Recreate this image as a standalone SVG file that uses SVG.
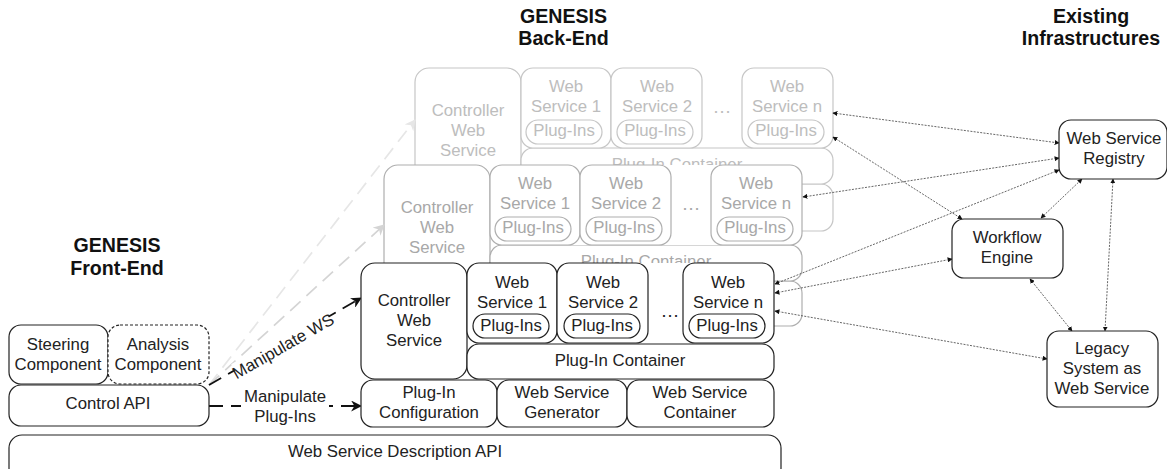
<svg xmlns="http://www.w3.org/2000/svg" width="1167" height="469" viewBox="0 0 1167 469">
<style>
text{font-family:"Liberation Sans",Arial,sans-serif;font-size:16.8px;text-anchor:middle;fill:#222}
.t{font-weight:bold;font-size:19.6px;fill:#111}
.d{font-size:19px}
rect{fill:#fff;stroke:#222;stroke-width:1.2}
.dash{stroke-dasharray:3 2}
.s1 rect{stroke:#c6c6c6}.s1 text{fill:#bdbdbd}
.s2 rect{stroke:#aeaeae}.s2 text{fill:#a8a8a8}
.k{fill:none;stroke:#555;stroke-width:.9;stroke-dasharray:2 1.3;marker-start:url(#a);marker-end:url(#a)}
.m{fill:none;stroke:#111;stroke-width:1.8;stroke-dasharray:14 8;marker-end:url(#b)}
.g1{fill:none;stroke:#e6e6e6;stroke-width:1.7;stroke-dasharray:14 8;marker-end:url(#c)}
.g2{fill:none;stroke:#d4d4d4;stroke-width:1.7;stroke-dasharray:14 8;marker-end:url(#d)}
rect.h{fill:#fff;stroke:none}
</style>
<defs>
<marker id="a" viewBox="0 0 8 8" refX="7" refY="4" markerWidth="5" markerHeight="5" markerUnits="userSpaceOnUse" orient="auto-start-reverse"><path d="M0 0L8 4L0 8z" fill="#111"/></marker>
<marker id="b" viewBox="0 0 10 10" refX="9" refY="5" markerWidth="11" markerHeight="11" markerUnits="userSpaceOnUse" orient="auto"><path d="M0 0L10 5L0 10L3 5z" fill="#111"/></marker>
<marker id="c" viewBox="0 0 10 10" refX="9" refY="5" markerWidth="11" markerHeight="11" markerUnits="userSpaceOnUse" orient="auto"><path d="M0 0L10 5L0 10L3 5z" fill="#e6e6e6"/></marker>
<marker id="d" viewBox="0 0 10 10" refX="9" refY="5" markerWidth="11" markerHeight="11" markerUnits="userSpaceOnUse" orient="auto"><path d="M0 0L10 5L0 10L3 5z" fill="#d4d4d4"/></marker>
</defs>

<text class="t" x="563.5" y="22.5">GENESIS</text><text class="t" x="563.5" y="45">Back-End</text>
<text class="t" x="1091" y="22.5">Existing</text><text class="t" x="1091" y="45">Infrastructures</text>
<text class="t" x="117" y="252">GENESIS</text><text class="t" x="117" y="275">Front-End</text>

<g id="backend-top" class="s1">
<rect x="521" y="184" width="312" height="47" rx="12"/>
<rect x="415" y="68" width="106" height="116" rx="14"/>
<text x="468" y="116">Controller</text><text x="468" y="136">Web</text><text x="468" y="156">Service</text>
<rect x="521" y="148" width="312" height="36" rx="12"/><text x="677" y="170">Plug-In Container</text>
<rect x="521" y="68" width="90" height="80" rx="12"/><text x="566" y="92">Web</text><text x="566" y="112">Service 1</text>
<rect x="526" y="120" width="76" height="24" rx="12"/><text x="564" y="136">Plug-Ins</text>
<rect x="611" y="68" width="91" height="80" rx="12"/><text x="657" y="92">Web</text><text x="657" y="112">Service 2</text>
<rect x="617" y="120" width="76" height="24" rx="12"/><text x="655" y="136">Plug-Ins</text>
<text class="d" x="722" y="113">…</text>
<rect x="742" y="68" width="91" height="80" rx="12"/><text x="787" y="92">Web</text><text x="787" y="112">Service n</text>
<rect x="748" y="120" width="76" height="24" rx="12"/><text x="786" y="136">Plug-Ins</text>
</g>

<g id="backend-middle" class="s2">
<rect x="490" y="281" width="312" height="45" rx="12"/>
<rect x="384" y="165" width="106" height="116" rx="14"/>
<text x="437" y="213">Controller</text><text x="437" y="233">Web</text><text x="437" y="253">Service</text>
<rect x="490" y="245" width="312" height="36" rx="12"/><text x="646" y="267">Plug-In Container</text>
<rect class="h" x="495" y="165" width="300" height="80"/>
<rect x="490" y="165" width="90" height="80" rx="12"/><text x="535" y="189">Web</text><text x="535" y="209">Service 1</text>
<rect x="495" y="217" width="76" height="24" rx="12"/><text x="533" y="233">Plug-Ins</text>
<rect x="580" y="165" width="91" height="80" rx="12"/><text x="626" y="189">Web</text><text x="626" y="209">Service 2</text>
<rect x="586" y="217" width="76" height="24" rx="12"/><text x="624" y="233">Plug-Ins</text>
<text class="d" x="691" y="210">…</text>
<rect x="711" y="165" width="91" height="80" rx="12"/><text x="756" y="189">Web</text><text x="756" y="209">Service n</text>
<rect x="717" y="217" width="76" height="24" rx="12"/><text x="755" y="233">Plug-Ins</text>
</g>

<g id="connectors">
<path class="g1" d="M209 385L415 120"/>
<path class="g2" d="M209 385L384 225"/>
<path class="m" d="M209 385L361 298"/>
<path class="m" d="M209 406L361 406"/>
<rect class="h" x="229" y="336" width="108" height="20" transform="rotate(-29.8 283 346)"/>
<rect class="h" x="241" y="386" width="88" height="40"/>
<text x="283" y="352" transform="rotate(-29.8 283 346)">Manipulate WS</text>
<text x="285" y="402">Manipulate</text><text x="285" y="422">Plug-Ins</text>
<path class="k" d="M833 113L1059 143"/>
<path class="k" d="M833 137L962 219"/>
<path class="k" d="M803 197L1059 158"/>
<path class="k" d="M775 284L1059 170"/>
<path class="k" d="M775 293L952 259"/>
<path class="k" d="M775 311L1047 359"/>
<path class="k" d="M1041 218L1082 179"/>
<path class="k" d="M1030 279L1072 331"/>
<path class="k" d="M1113 179L1105 331"/>
</g>

<g id="controller-ws"><rect x="361" y="263" width="106" height="116" rx="14"/><text x="414" y="306">Controller</text><text x="414" y="326">Web</text><text x="414" y="346">Service</text></g>
<rect class="h" x="472" y="263" width="297" height="80"/>
<g id="ws1"><rect x="467" y="263" width="90" height="80" rx="12"/><text x="512" y="288">Web</text><text x="512" y="308">Service 1</text><rect x="473" y="314" width="76" height="24" rx="12"/><text x="511" y="331">Plug-Ins</text></g>
<g id="ws2"><rect x="557" y="263" width="91" height="80" rx="12"/><text x="603" y="288">Web</text><text x="603" y="308">Service 2</text><rect x="564" y="314" width="76" height="24" rx="12"/><text x="602" y="331">Plug-Ins</text></g>
<text class="d" x="670" y="317">…</text>
<g id="wsn"><rect x="683" y="263" width="91" height="80" rx="12"/><text x="728" y="288">Web</text><text x="728" y="308">Service n</text><rect x="689" y="314" width="76" height="24" rx="12"/><text x="727" y="331">Plug-Ins</text></g>
<g id="plugin-container"><rect x="467" y="344" width="307" height="35" rx="12"/><text x="620" y="366">Plug-In Container</text></g>
<g id="plugin-config"><rect x="361" y="380" width="136" height="47" rx="12"/><text x="429" y="398">Plug-In</text><text x="429" y="418">Configuration</text></g>
<g id="ws-generator"><rect x="497" y="380" width="130" height="47" rx="12"/><text x="562" y="398">Web Service</text><text x="562" y="418">Generator</text></g>
<g id="ws-container"><rect x="627" y="380" width="147" height="47" rx="12"/><text x="700" y="398">Web Service</text><text x="700" y="418">Container</text></g>
<g id="steering"><rect x="9" y="325" width="99" height="59" rx="12"/><text x="58" y="350">Steering</text><text x="58" y="370">Component</text></g>
<g id="analysis"><rect class="dash" x="108" y="325" width="101" height="59" rx="12"/><text x="158" y="350">Analysis</text><text x="158" y="370">Component</text></g>
<g id="control-api"><rect x="9" y="385" width="200" height="41" rx="12"/><text x="108" y="409">Control API</text></g>
<g id="description-api"><rect x="9" y="435" width="772" height="46" rx="13"/><text x="395" y="457">Web Service Description API</text></g>
<g id="registry"><rect x="1059" y="120" width="108" height="59" rx="12"/><text x="1114" y="144">Web Service</text><text x="1114" y="164">Registry</text></g>
<g id="workflow"><rect x="952" y="219" width="111" height="59" rx="12"/><text x="1007" y="243">Workflow</text><text x="1007" y="263">Engine</text></g>
<g id="legacy"><rect x="1047" y="331" width="111" height="76" rx="12"/><text x="1102" y="354">Legacy</text><text x="1102" y="374">System as</text><text x="1102" y="394">Web Service</text></g>
</svg>
